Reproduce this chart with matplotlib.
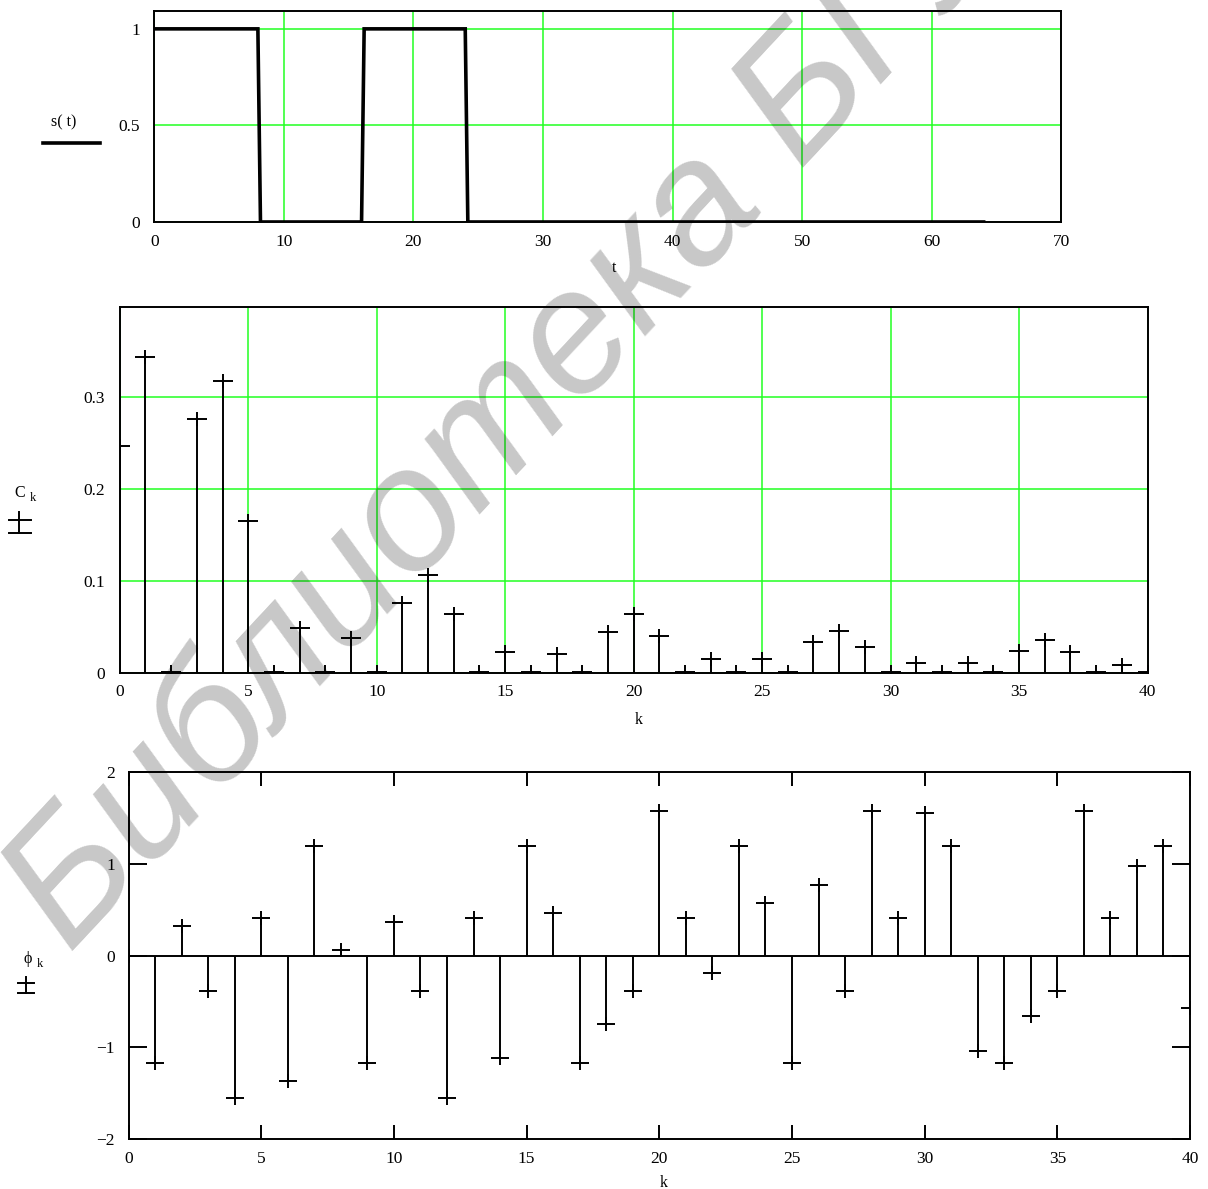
import matplotlib
matplotlib.use("Agg")
import matplotlib.pyplot as plt
from matplotlib.path import Path
from matplotlib.lines import Line2D

# s(t) - two rectangular pulses (corner points of the trace)
t_pts = [0, 8, 8.2, 16, 16.2, 24, 24.2, 64]
s_pts = [1, 1, 0, 0, 1, 1, 0, 0]

k_vals = list(range(41))
C_k = [0.247, 0.343, 0.001, 0.276, 0.317, 0.165, 0.001, 0.049, 0.001, 0.038,
       0.001, 0.076, 0.106, 0.064, 0.001, 0.022, 0.001, 0.020, 0.001, 0.044,
       0.064, 0.040, 0.001, 0.015, 0.001, 0.015, 0.001, 0.033, 0.045, 0.028,
       0.001, 0.011, 0.001, 0.011, 0.001, 0.024, 0.036, 0.023, 0.001, 0.008,
       0.001]
phi_k = [0.0, -1.175, 0.327, -0.385, -1.56, 0.404, -1.371, 1.193, 0.055, -1.175,
         0.364, -0.385, -1.56, 0.404, -1.116, 1.193, 0.462, -1.175, -0.753, -0.385,
         1.578, 0.404, -0.189, 1.193, 0.578, -1.175, 0.767, -0.385, 1.578, 0.404,
         1.56, 1.193, -1.04, -1.175, -0.658, -0.385, 1.578, 0.404, 0.978, 1.193,
         -0.575]

t_ticks = [0, 10, 20, 30, 40, 50, 60, 70]
s_ticks = [0, 0.5, 1]
s_ticklabels = ["0", "0.5", "1"]
k_ticks = [0, 5, 10, 15, 20, 25, 30, 35, 40]
C_ticks = [0, 0.1, 0.2, 0.3]
C_ticklabels = ["0", "0.1", "0.2", "0.3"]
phi_ticks = [-2, -1, 0, 1, 2]
phi_ticklabels = ["\u22122", "\u22121", "0", "1", "2"]

W, H = 1208, 1189
GREEN = "#22ff22"
SERIF = ["Liberation Serif", "DejaVu Serif"]
plt.rcParams["font.family"] = SERIF


def px(x, y):
    return x / W, 1 - y / H


def plus_marker(wx, wy):
    return Path([(-wx, 0), (wx, 0), (0, -wy), (0, wy)],
                [Path.MOVETO, Path.LINETO, Path.MOVETO, Path.LINETO])


fig = plt.figure(figsize=(W / 100, H / 100), dpi=100)

# --- s(t) ---
ax1 = fig.add_axes([154.2 / W, 1 - 222 / H, 907.2 / W, 211.3 / H])
ax1.plot(t_pts, s_pts, color="black", lw=2.6, solid_joinstyle="miter")
ax1.set_xlim(0, 70)
ax1.set_ylim(0, 1.094)
ax1.set_xticks(t_ticks)
ax1.set_yticks(s_ticks)
ax1.set_yticklabels(s_ticklabels)
ax1.grid(True, color=GREEN, lw=1.1)
ax1.tick_params(length=0, labelsize=12.5)
ax1.tick_params(axis="x", pad=9)
ax1.tick_params(axis="y", pad=10)
for sp in ax1.spines.values():
    sp.set_linewidth(1.4)

fig.text(*px(64, 122), "s( t)", fontsize=11.5, ha="center", va="center")
fig.add_artist(Line2D([43 / W, 100 / W], [1 - 143 / H, 1 - 143 / H], color="black", lw=2.6))
fig.text(*px(614, 268), "t", fontsize=11.5, ha="center", va="center")

# --- C_k ---
ax2 = fig.add_axes([119.8 / W, 1 - 672.7 / H, 1027.7 / W, 366 / H])
ax2.vlines(k_vals, 0, C_k, color="black", lw=1.4)
ax2.plot(k_vals, C_k, ls="none", marker=plus_marker(1.5, 1.0), ms=15,
         mec="black", mfc="none", mew=1.4)
ax2.set_xlim(0, 40)
ax2.set_ylim(0, 0.398)
ax2.set_xticks(k_ticks)
ax2.set_yticks(C_ticks)
ax2.set_yticklabels(C_ticklabels)
ax2.grid(True, color=GREEN, lw=1.1)
ax2.tick_params(length=0, labelsize=12.5)
ax2.tick_params(axis="x", pad=8)
ax2.tick_params(axis="y", pad=11)
for sp in ax2.spines.values():
    sp.set_linewidth(1.4)

fig.text(*px(19.5, 493), "C", fontsize=11.5, ha="center", va="center")
fig.text(*px(33, 498), "k", fontsize=9, ha="center", va="center")
fig.add_artist(Line2D([19.3 / W, 19.3 / W], [1 - 511.7 / H, 1 - 533 / H], color="black", lw=1.4))
for yy in (520, 532.7):
    fig.add_artist(Line2D([9.3 / W, 30.7 / W], [1 - yy / H, 1 - yy / H], color="black", lw=1.4))
fig.text(*px(639, 720), "k", fontsize=11.5, ha="center", va="center")

# --- phi_k ---
ax3 = fig.add_axes([128.6 / W, 1 - 1138.7 / H, 1061.4 / W, 366.4 / H])
ax3.axhline(0, color="black", lw=1.4)
ax3.vlines(k_vals, 0, phi_k, color="black", lw=1.4)
ax3.plot(k_vals, phi_k, ls="none", marker=plus_marker(1.35, 1.0), ms=12.8,
         mec="black", mfc="none", mew=1.4)
ax3.set_xlim(0, 40)
ax3.set_ylim(-2, 2)
ax3.set_xticks(k_ticks)
ax3.set_yticks(phi_ticks)
ax3.set_yticklabels(phi_ticklabels)
ax3.tick_params(direction="in", width=1.4, labelsize=12.5)
ax3.tick_params(axis="x", top=True, bottom=True, length=10, pad=9)
ax3.tick_params(axis="y", left=True, right=True, length=13, pad=10)
for sp in ax3.spines.values():
    sp.set_linewidth(1.4)

fig.text(*px(27.5, 959), "\u03d5", fontsize=11.5, ha="center", va="center")
fig.text(*px(40, 964), "k", fontsize=9, ha="center", va="center")
fig.add_artist(Line2D([26 / W, 26 / W], [1 - 977 / H, 1 - 993 / H], color="black", lw=1.4))
for yy in (983, 993):
    fig.add_artist(Line2D([18 / W, 34 / W], [1 - yy / H, 1 - yy / H], color="black", lw=1.4))
fig.text(*px(664, 1183), "k", fontsize=11.5, ha="center", va="center")

# watermark
fig.text(*px(70, 955), "Библиотека БГУИР", rotation=47, rotation_mode="anchor",
         ha="left", va="baseline", fontsize=126, style="italic",
         family=["Liberation Sans", "DejaVu Sans"], color="black", alpha=0.22, zorder=10)

fig.savefig("out.png", dpi=100)
